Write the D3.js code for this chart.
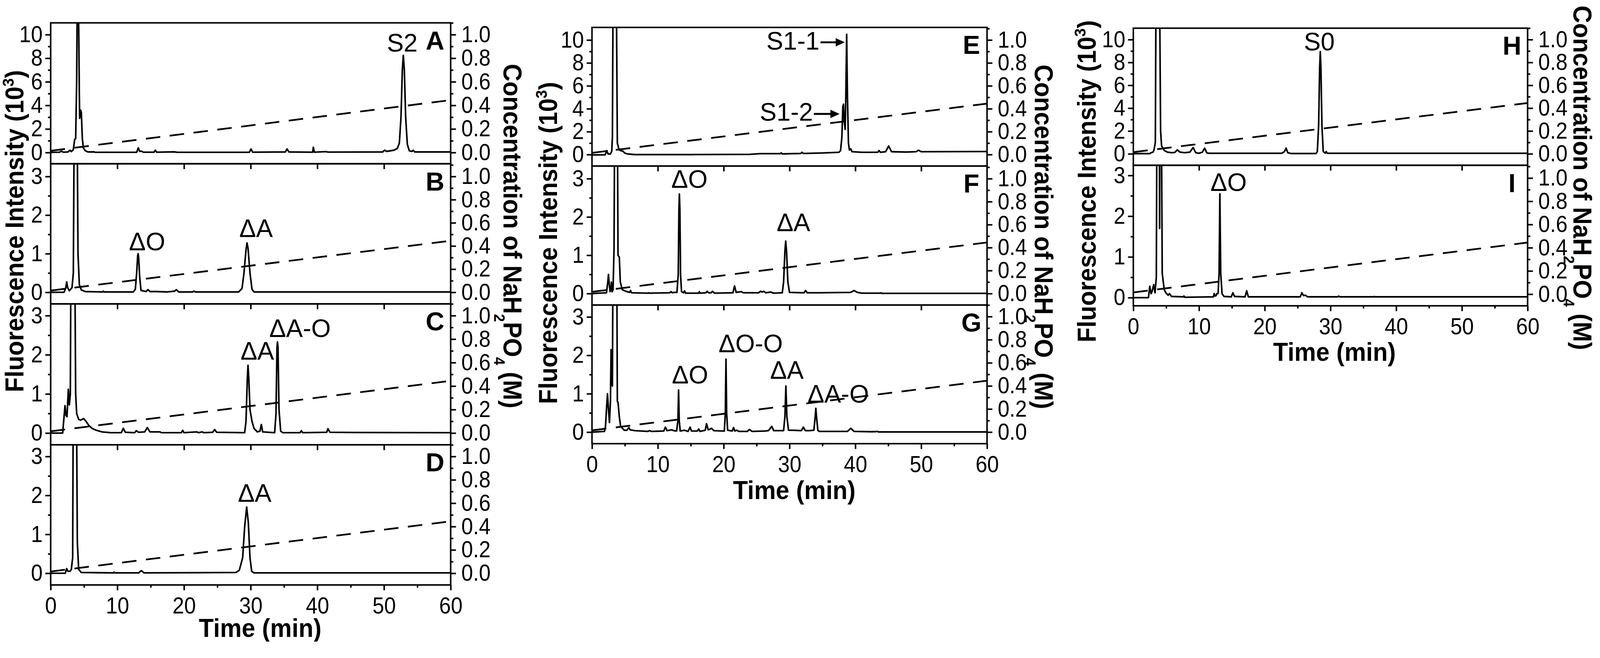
<!DOCTYPE html>
<html>
<head>
<meta charset="utf-8">
<script src="https://cdn.jsdelivr.net/npm/d3@7"></script>
<style>
  html, body { margin: 0; padding: 0; background: #fff; overflow: hidden; }
  svg { display: block; width: 100%; height: auto; }
</style>
</head>
<body>
<svg id="fig" viewBox="0 0 4200 1685" preserveAspectRatio="xMinYMin meet"></svg>
<script>
// ---- data: [time (min), fluorescence (10^3)] ----
const traceA = [[0,0.02],[1.3,0.02],[1.6,0.12],[1.9,0.03],[2.6,0.05],[2.9,0.2],[3.1,0.08],[3.4,0.25],[3.6,1.1],[3.75,1.2],[3.9,6],[4.0,14],[4.15,14],[4.3,5],[4.35,2.9],[4.5,3.6],[4.6,3.4],[4.75,1.2],[4.9,0.4],[5.2,0.15],[5.6,0.05],[6.5,0.06],[6.7,0.02],[9,0.02],[12.9,0.02],[13.15,0.4],[13.35,0.1],[13.6,0.12],[13.9,0.03],[15.5,0.03],[15.7,0.2],[15.9,0.03],[18.5,0.06],[19,0.02],[29.8,0.02],[30.05,0.3],[30.3,0.03],[35.2,0.05],[35.45,0.3],[35.75,0.05],[39.3,0.03],[39.4,0.45],[39.55,0.03],[41.3,0.08],[41.6,0.04],[49.8,0.05],[50.1,0.2],[50.4,0.1],[51.5,0.2],[52.0,0.35],[52.3,0.8],[52.55,3.0],[52.75,7.0],[52.9,8.25],[53.05,7.0],[53.25,3.0],[53.5,0.7],[53.8,0.15],[54.2,0.1],[54.4,0.2],[54.6,0.05],[60,0.05]];
const traceB = [[0,0],[2.0,0],[2.25,0.1],[2.4,0.27],[2.55,0.12],[2.8,0.04],[3.0,0.08],[3.2,0.12],[3.4,0.5],[3.55,5],[3.95,5],[4.1,1.0],[4.3,0.2],[4.6,0.06],[5.2,0.02],[7.8,0.01],[7.9,0.03],[8.0,0.01],[12.4,0.01],[12.7,0.08],[12.9,0.5],[13.05,0.95],[13.12,1.0],[13.2,0.9],[13.35,0.4],[13.55,0.05],[14.3,0.02],[14.6,0.07],[14.9,0.02],[15.9,0.02],[17.5,0.01],[18.6,0.03],[18.85,0.07],[19.2,0.01],[21.3,0.01],[21.5,0.03],[21.7,0.01],[28.2,0.01],[28.7,0.1],[29.0,0.5],[29.3,1.1],[29.45,1.28],[29.6,1.15],[29.9,0.5],[30.2,0.08],[30.5,0.01],[60,0.01]];
const traceC = [[0,0],[1.8,0],[1.95,0.3],[2.15,0.7],[2.3,0.45],[2.45,0.42],[2.65,1.12],[2.8,0.72],[2.95,1.0],[3.05,5],[3.6,5],[3.75,1.0],[3.9,0.5],[4.2,0.35],[4.5,0.33],[4.95,0.37],[5.3,0.3],[5.7,0.2],[6.2,0.12],[6.7,0.08],[7.7,0.03],[9,0.01],[10.6,0.01],[10.9,0.12],[11.2,0.02],[12.6,0.01],[12.85,0.06],[13.2,0.02],[14.1,0.03],[14.5,0.14],[14.9,0.03],[16.4,0.03],[16.6,0.01],[19.6,0.01],[19.8,0.07],[20.0,0.01],[21.9,0.03],[22.2,0.01],[22.7,0.03],[23.0,0.01],[24.3,0.02],[24.6,0.09],[24.9,0.02],[29.1,0.01],[29.3,0.3],[29.5,1.4],[29.6,1.73],[29.72,1.4],[29.9,0.6],[30.2,0.3],[30.5,0.12],[31.0,0.03],[31.4,0.05],[31.6,0.22],[31.8,0.03],[33.6,0.01],[33.8,0.5],[33.95,2.2],[34.02,2.33],[34.1,2.2],[34.25,0.6],[34.5,0.05],[34.8,0.01],[37.4,0.01],[37.6,0.06],[37.8,0.01],[41.4,0.02],[41.6,0.11],[41.9,0.02],[45.5,0.015],[60,0.01]];
const traceD = [[0,0],[2.2,0],[2.4,0.12],[2.6,0.05],[2.9,0.05],[3.1,0.1],[3.3,0.4],[3.4,5],[3.85,5],[4.0,0.8],[4.2,0.1],[4.6,0.02],[9.4,0.01],[9.5,0.03],[9.6,0.01],[13.2,0.01],[13.6,0.07],[14.0,0.01],[27.8,0.02],[28.3,0.08],[28.8,0.4],[29.1,1.2],[29.4,1.7],[29.65,1.3],[29.9,0.4],[30.15,0.05],[30.5,0.01],[60,0.01]];
const traceE = [[0,-0.03],[2.0,-0.02],[2.25,0.35],[2.45,0.05],[2.8,0.05],[3.0,0.3],[3.1,1.5],[3.2,14],[3.7,14],[3.85,1.0],[4.1,0.45],[4.3,0.35],[4.7,0.3],[5.0,0.12],[5.5,0.05],[6.5,0.0],[15,0.0],[24,0.02],[25.5,0.08],[28.6,0.08],[28.75,0.15],[28.9,0.06],[31.7,0.1],[31.9,0.2],[32.1,0.1],[35,0.14],[37.5,0.2],[37.75,0.35],[37.95,1.5],[38.1,4.2],[38.2,4.4],[38.3,3.0],[38.45,2.2],[38.55,5],[38.68,10.5],[38.8,5],[38.95,1.0],[39.1,0.4],[39.3,0.5],[39.5,0.25],[41,0.2],[43.4,0.2],[43.6,0.35],[43.8,0.2],[44.6,0.25],[45.05,0.75],[45.5,0.25],[47.7,0.22],[49.2,0.25],[49.6,0.38],[50.0,0.25],[60,0.27]];
const traceF = [[0,0],[2.2,0.02],[2.4,0.3],[2.5,0.5],[2.62,0.25],[2.75,0.05],[2.9,0.15],[2.95,0.3],[3.05,0.05],[3.2,0.1],[3.35,1.2],[3.45,5],[3.85,5],[3.95,1.0],[4.15,0.95],[4.3,0.3],[4.6,0.1],[5.3,0.05],[5.7,0.03],[5.85,0.08],[6.0,0.02],[8.5,0.01],[8.6,0.02],[8.7,0.01],[11.8,0.02],[12.0,0.05],[12.2,0.02],[12.45,0.03],[12.9,0.03],[13.1,0.5],[13.2,2.2],[13.27,2.6],[13.35,2.2],[13.45,0.5],[13.6,0.05],[13.9,0.02],[14.05,0.07],[14.2,0.01],[16.2,0.01],[16.3,0.05],[16.4,0.01],[17.3,0.02],[17.5,0.06],[17.7,0.02],[18.1,0.02],[18.3,0.06],[18.6,0.01],[21.4,0.02],[21.65,0.2],[21.9,0.03],[22.65,0.05],[23,0.02],[25.3,0.02],[25.6,0.06],[25.85,0.04],[26.1,0.06],[26.4,0.02],[27.2,0.04],[27.5,0.01],[28.9,0.02],[29.1,0.3],[29.3,1.1],[29.42,1.37],[29.55,1.1],[29.75,0.3],[30.0,0.03],[32.2,0.02],[32.45,0.08],[32.7,0.02],[34.3,0.02],[39.3,0.03],[39.8,0.08],[40.3,0.03],[41,0.01],[43.8,0.01],[43.9,0.02],[44,0.005],[60,0.005]];
const traceG = [[0,0],[1.9,0.02],[2.05,0.15],[2.2,0.6],[2.35,1.0],[2.5,0.6],[2.65,0.25],[2.8,0.8],[2.9,2.15],[3.0,1.3],[3.1,1.2],[3.2,5],[3.75,5],[3.85,0.8],[3.95,0.78],[4.15,0.4],[4.35,0.15],[4.9,0.05],[5.3,0.05],[5.6,0.12],[5.8,0.06],[6.5,0.04],[8.5,0.02],[8.75,0.04],[9.0,0.02],[10.9,0.03],[11.15,0.13],[11.4,0.04],[12.1,0.06],[12.4,0.04],[12.85,0.03],[13.05,0.3],[13.15,1.1],[13.25,0.3],[13.4,0.03],[14.05,0.05],[14.6,0.02],[14.9,0.13],[15.1,0.03],[16.0,0.03],[16.2,0.08],[16.4,0.02],[17.2,0.05],[17.4,0.22],[17.65,0.06],[18.15,0.1],[18.5,0.04],[19.75,0.03],[20.1,0.03],[20.25,0.5],[20.35,1.9],[20.45,0.5],[20.6,0.05],[21.3,0.03],[21.5,0.12],[21.7,0.03],[22.0,0.05],[22.3,0.02],[23.6,0.02],[23.9,0.07],[24.3,0.02],[26.3,0.03],[26.8,0.04],[27.3,0.15],[27.6,0.04],[29.1,0.04],[29.3,0.4],[29.45,1.2],[29.6,0.4],[29.85,0.05],[30.4,0.05],[31.8,0.04],[32.1,0.13],[32.4,0.04],[33.05,0.04],[33.7,0.05],[33.9,0.4],[34.0,0.62],[34.1,0.4],[34.3,0.05],[34.5,0.02],[38.8,0.02],[39.3,0.1],[39.8,0.02],[42.6,0.01],[42.7,0.02],[42.8,0.01],[43.4,0.02],[43.5,0.005],[60,0.005]];
const traceH = [[0,0.02],[2.5,0.02],[2.7,0.1],[3.0,0.15],[3.15,0.35],[3.35,1.0],[3.45,14],[4.0,14],[4.15,2.0],[4.3,0.7],[4.7,0.3],[5.2,0.15],[5.8,0.1],[6.3,0.12],[6.7,0.35],[7.1,0.15],[7.8,0.1],[8.6,0.15],[9.1,0.55],[9.5,0.1],[10.0,0.05],[10.5,0.15],[10.85,0.5],[11.2,0.08],[11.5,0.05],[13.25,0.05],[18.4,0.05],[22.6,0.05],[23.0,0.2],[23.25,0.5],[23.5,0.1],[24,0.03],[27.8,0.03],[28.0,0.2],[28.2,2.5],[28.35,7.5],[28.45,8.95],[28.55,7.5],[28.7,2.5],[28.9,0.2],[29.2,0.06],[29.35,0.2],[29.5,0.05],[60,0.05]];
const traceI = [[0,0],[2.3,0],[2.5,0.28],[2.7,0.1],[2.85,0.15],[3.1,0.32],[3.3,0.12],[3.5,0.5],[3.6,5],[3.95,5],[4.0,1.7],[4.05,5],[4.25,5],[4.4,0.6],[4.7,0.2],[4.95,0.12],[5.3,0.06],[5.5,0.1],[5.8,0.03],[7.6,0.02],[7.7,0.04],[7.8,0.01],[12.2,0.02],[12.3,0.1],[12.45,0.04],[12.6,0.05],[12.7,0.1],[12.9,0.1],[13.05,0.6],[13.17,2.55],[13.3,0.6],[13.5,0.1],[13.8,0.03],[14.9,0.02],[15.15,0.12],[15.4,0.03],[17.0,0.02],[17.25,0.17],[17.5,0.02],[20.1,0.02],[25.4,0.02],[25.65,0.12],[25.9,0.05],[26.2,0.06],[26.5,0.02],[31.1,0.02],[31.25,0.04],[31.4,0.02],[36.6,0.02],[36.7,0.03],[36.8,0.02],[60,0.02]];

// NaH2PO4 gradient [time, M]
const gradient = [[0, 0.015], [60, 0.445]];

// tick values
const timeTicks = [0, 10, 20, 30, 40, 50, 60];
const timeMinor = [5, 15, 25, 35, 45, 55];
const timeInner = [10, 20, 30, 40, 50];
const bigTicks = [0, 2, 4, 6, 8, 10];
const bigMinor = [1, 3, 5, 7, 9];
const smallTicks = [0, 1, 2, 3];
const smallMinor = [0.5, 1.5, 2.5];
const concTicks = [0, 0.2, 0.4, 0.6, 0.8, 1.0];
const concMinor = [0.1, 0.3, 0.5, 0.7, 0.9, 1.1];

// peak labels [text, time, intensity]
const labelsA = [["S2", 52.74, 8.58]];
const labelsB = [["ΔO", 14.46, 1.09], ["ΔA", 30.8, 1.43]];
const labelsC = [["ΔA", 31.0, 1.88], ["ΔA-O", 37.4, 2.45]];
const labelsD = [["ΔA", 30.6, 1.84]];
const labelsE = [["S1-1", 34.55, 9.17], ["S1-2", 33.55, 2.95]];
const labelsF = [["ΔO", 14.8, 2.76], ["ΔA", 30.6, 1.63]];
const labelsG = [["ΔO", 14.9, 1.27], ["ΔO-O", 24.1, 2.08], ["ΔA", 29.6, 1.39], ["ΔA-O", 37.4, 0.77]];
const labelsH = [["S0", 28.3, 9.07]];
const labelsI = [["ΔO", 14.5, 2.62]];
// arrows in E [time from, time to, intensity]
const arrowsE = [[34.7, 38.4, 9.8], [33.7, 37.6, 3.55]];

// ---- layout ----
const FONT = "'Liberation Sans', Arial, sans-serif";
const SQ = 0.92;   // horizontal squeeze of the (tall) Origin lettering
const cols = [
  {x0: 133, x1: 1183, titleX: 683, titleBase: 1672, lt: [62, 607], rt: [1322, 620]},
  {x0: 1554, x1: 2591, titleX: 2085, titleBase: 1310, lt: [1462, 638], rt: [2716, 622]},
  {x0: 2975, x1: 4010, titleX: 3503, titleBase: 947, lt: [2876, 476], rt: [4130, 467]}
];
const panels = [
  {name: "A", col: 0, y0: 60, y1: 430, trace: traceA, dom: [-0.95, 11], rdom: [-0.095, 1.1], major: bigTicks, minor: bigMinor, labels: labelsA},
  {name: "B", col: 0, y0: 430, y1: 798, trace: traceB, dom: [-0.3, 3.33], rdom: [-0.1, 1.11], major: smallTicks, minor: smallMinor, labels: labelsB},
  {name: "C", col: 0, y0: 798, y1: 1168, trace: traceC, dom: [-0.3, 3.3], rdom: [-0.1, 1.1], major: smallTicks, minor: smallMinor, labels: labelsC},
  {name: "D", col: 0, y0: 1168, y1: 1536, trace: traceD, dom: [-0.3, 3.3], rdom: [-0.1, 1.1], major: smallTicks, minor: smallMinor, labels: labelsD, last: true},
  {name: "E", col: 1, y0: 72, y1: 436, trace: traceE, dom: [-1, 11.1], rdom: [-0.1, 1.11], major: bigTicks, minor: bigMinor, labels: labelsE, anchor: "end", arrows: arrowsE},
  {name: "F", col: 1, y0: 436, y1: 801, trace: traceF, dom: [-0.3, 3.33], rdom: [-0.1, 1.11], major: smallTicks, minor: smallMinor, labels: labelsF},
  {name: "G", col: 1, y0: 801, y1: 1165, trace: traceG, dom: [-0.3, 3.31], rdom: [-0.1, 1.1], major: smallTicks, minor: smallMinor, labels: labelsG, last: true},
  {name: "H", col: 2, y0: 74, y1: 434, trace: traceH, dom: [-1, 11], rdom: [-0.1, 1.1], major: bigTicks, minor: bigMinor, labels: labelsH},
  {name: "I", col: 2, y0: 434, y1: 803, trace: traceI, dom: [-0.2, 3.25], rdom: [-0.1, 1.11], major: smallTicks, minor: smallMinor, labels: labelsI, last: true}
];

const svg = d3.select("#fig");
const defs = svg.append("defs");

function styleAxis(sel) {
  sel.select(".domain").remove();
  sel.selectAll(".tick line").attr("stroke", "#000").attr("stroke-width", 4);
  sel.selectAll(".tick text")
    .attr("fill", "#000").attr("font-size", 60).attr("font-family", FONT)
    .attr("x", function() { const v = +d3.select(this).attr("x"); return (v || 0) / SQ; })
    .attr("transform", `scale(${SQ},1)`);
}

function inDom(vals, dom) {
  return vals.filter(v => v >= dom[0] && v <= dom[1]);
}

function drawPanel(p) {
  const c = cols[p.col];
  const x = d3.scaleLinear().domain([0, 60]).range([c.x0, c.x1]);
  const y = d3.scaleLinear().domain(p.dom).range([p.y1, p.y0]);
  const yr = d3.scaleLinear().domain(p.rdom).range([p.y1, p.y0]);
  const g = svg.append("g");

  defs.append("clipPath").attr("id", "clip" + p.name)
    .append("rect")
    .attr("x", c.x0).attr("y", p.y0)
    .attr("width", c.x1 - c.x0).attr("height", p.y1 - p.y0);

  const line = d3.line().x(d => x(d[0])).y(d => y(d[1]));
  g.append("path")
    .datum(p.trace)
    .attr("d", line)
    .attr("clip-path", "url(#clip" + p.name + ")")
    .attr("fill", "none")
    .attr("stroke", "#000")
    .attr("stroke-width", 4.2)
    .attr("stroke-linejoin", "round");

  const gline = d3.line().x(d => x(d[0])).y(d => yr(d[1]));
  g.append("path")
    .datum(gradient)
    .attr("d", gline)
    .attr("clip-path", "url(#clip" + p.name + ")")
    .attr("fill", "none")
    .attr("stroke", "#000")
    .attr("stroke-width", 4.5)
    .attr("stroke-dasharray", "38,25");

  // frame
  g.append("rect")
    .attr("x", c.x0).attr("y", p.y0)
    .attr("width", c.x1 - c.x0).attr("height", p.y1 - p.y0)
    .attr("fill", "none").attr("stroke", "#000").attr("stroke-width", 4);

  // left axis
  g.append("g").attr("transform", `translate(${c.x0},0)`)
    .call(d3.axisLeft(y).tickValues(p.major).tickSize(14).tickPadding(7).tickFormat(d3.format("d")))
    .call(styleAxis);
  g.append("g").attr("transform", `translate(${c.x0},0)`)
    .call(d3.axisLeft(y).tickValues(inDom(p.minor, p.dom)).tickSize(7).tickFormat(""))
    .call(styleAxis);

  // right axis
  g.append("g").attr("transform", `translate(${c.x1},0)`)
    .call(d3.axisRight(yr).tickValues(concTicks).tickSize(14).tickPadding(14).tickFormat(d3.format(".1f")))
    .call(styleAxis);
  g.append("g").attr("transform", `translate(${c.x1},0)`)
    .call(d3.axisRight(yr).tickValues(inDom(concMinor, p.rdom)).tickSize(7).tickFormat(""))
    .call(styleAxis);

  // bottom axis
  if (p.last) {
    g.append("g").attr("transform", `translate(0,${p.y1})`)
      .call(d3.axisBottom(x).tickValues(timeTicks).tickSize(14).tickPadding(18).tickFormat(d3.format("d")))
      .call(styleAxis);
    g.append("g").attr("transform", `translate(0,${p.y1})`)
      .call(d3.axisBottom(x).tickValues(timeMinor).tickSize(7).tickFormat(""))
      .call(styleAxis);
  } else {
    g.append("g").attr("transform", `translate(0,${p.y1})`)
      .call(d3.axisBottom(x).tickValues(timeInner).tickSize(14).tickFormat(""))
      .call(styleAxis);
  }

  // peak labels
  g.selectAll(".peak").data(p.labels).join("text")
    .attr("x", d => x(d[1]))
    .attr("y", d => y(d[2]))
    .attr("text-anchor", p.anchor || "middle")
    .attr("font-family", FONT)
    .attr("font-size", 66)
    .text(d => d[0]);

  // arrows pointing at peaks
  (p.arrows || []).forEach(a => {
    const xs = x(a[0]), xe = x(a[1]), ya = y(a[2]);
    g.append("line")
      .attr("x1", xs).attr("y1", ya).attr("x2", xe - 18).attr("y2", ya)
      .attr("stroke", "#000").attr("stroke-width", 5);
    g.append("path")
      .attr("d", `M${xe},${ya} L${xe - 24},${ya - 11} L${xe - 24},${ya + 11} Z`)
      .attr("fill", "#000");
  });

  // panel letter
  g.append("text")
    .attr("x", c.x1 - 41).attr("y", p.y0 + 70)
    .attr("text-anchor", "middle")
    .attr("font-family", FONT).attr("font-weight", "bold").attr("font-size", 68)
    .text(p.name);
}

panels.forEach(drawPanel);

// axis titles
cols.forEach(c => {
  svg.append("text")
    .attr("transform", `translate(${c.titleX},${c.titleBase}) scale(0.94,1)`)
    .attr("text-anchor", "middle")
    .attr("font-family", FONT).attr("font-weight", "bold").attr("font-size", 68)
    .text("Time (min)");

  const lt = svg.append("text")
    .attr("transform", `translate(${c.lt[0]},${c.lt[1]}) rotate(-90) scale(0.94,1)`)
    .attr("text-anchor", "middle")
    .attr("font-family", FONT).attr("font-weight", "bold").attr("font-size", 68);
  lt.append("tspan").text("Fluorescence Intensity (10");
  lt.append("tspan").attr("font-size", 42).attr("dy", -26).text("3");
  lt.append("tspan").attr("dy", 26).text(")");

  const rt = svg.append("text")
    .attr("transform", `translate(${c.rt[0]},${c.rt[1]}) rotate(90) scale(0.94,1)`)
    .attr("text-anchor", "middle")
    .attr("font-family", FONT).attr("font-weight", "bold").attr("font-size", 68);
  rt.append("tspan").text("Concentration of NaH");
  rt.append("tspan").attr("font-size", 40).attr("dy", 25).text("2");
  rt.append("tspan").attr("dy", -25).text("PO");
  rt.append("tspan").attr("font-size", 40).attr("dy", 25).text("4");
  rt.append("tspan").attr("dy", -25).text(" (M)");
});
</script>
</body>
</html>
